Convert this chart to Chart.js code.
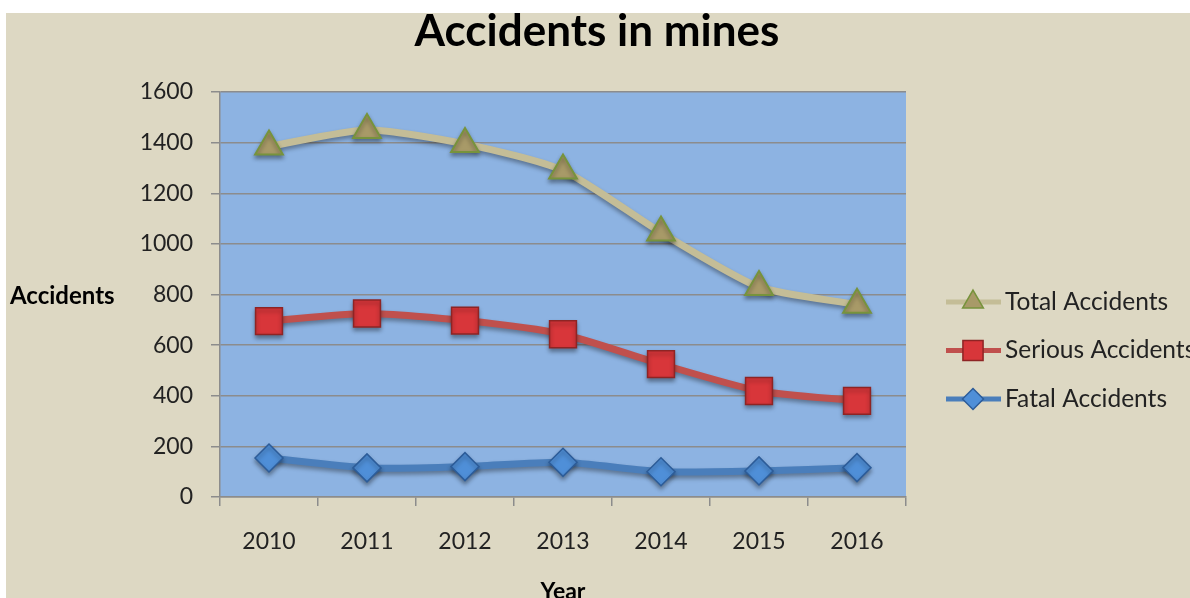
<!DOCTYPE html>
<html>
<head>
<meta charset="utf-8">
<script src="https://cdn.jsdelivr.net/npm/chart.js@4.4.1/dist/chart.umd.min.js"></script>
<style>
  html, body { margin: 0; padding: 0; background: #fff; }
  #wrap { width: 1190px; height: 598px; }
</style>
</head>
<body>
<div id="wrap"><canvas id="mines" width="1190" height="598"></canvas></div>
<script>
// data
const years = ["2010", "2011", "2012", "2013", "2014", "2015", "2016"];
const totalAccidents = [1385, 1450, 1395, 1290, 1045, 830, 760];
const seriousAccidents = [695, 725, 697, 643, 525, 419, 380];
const fatalAccidents = [154, 115, 120, 137, 100, 103, 116];
const yTicks = [0, 200, 400, 600, 800, 1000, 1200, 1400, 1600];

const FONT = "Lato, 'Open Sans', sans-serif";

// background + plot area fill
const backdrop = {
    id: "backdrop",
    beforeDraw(chart) {
        const c = chart.ctx, a = chart.chartArea;
        c.save();
        c.fillStyle = "#ffffff";
        c.fillRect(0, 0, chart.width, chart.height);
        c.fillStyle = "#DDD8C3";
        c.fillRect(6, 13, chart.width - 6, chart.height - 13);
        c.fillStyle = "#8DB3E2";
        c.fillRect(a.left, a.top, a.right - a.left, a.bottom - a.top);
        c.restore();
    }
};

// soft drop shadow under lines and markers
const shadow = {
    id: "shadow",
    beforeDatasetDraw(chart) {
        const c = chart.ctx;
        c.save();
        c.shadowColor = "rgba(0,0,0,0.35)";
        c.shadowBlur = 4;
        c.shadowOffsetY = 3;
    },
    afterDatasetDraw(chart) {
        chart.ctx.restore();
    }
};

// titles and the legend on the right
const labels = {
    id: "labels",
    afterDraw(chart) {
        const c = chart.ctx;
        c.save();
        c.fillStyle = "#000";
        c.textBaseline = "middle";
        c.textAlign = "center";
        c.font = "bold 44px " + FONT;
        c.fillText("Accidents in mines", 597, 32);
        c.font = "bold 23px " + FONT;
        c.fillText("Year", 563, 592);
        c.textAlign = "left";
        c.font = "bold 24px " + FONT;
        c.fillText("Accidents", 10, 296);

        c.font = "24.5px " + FONT;
        chart.data.datasets.forEach(function (ds, i) {
            const y = 302 + i * 48.5;
            c.strokeStyle = ds.borderColor;
            c.lineWidth = 5;
            c.beginPath();
            c.moveTo(946, y);
            c.lineTo(1001, y);
            c.stroke();
            c.fillStyle = ds.pointBackgroundColor;
            c.strokeStyle = ds.pointBorderColor;
            c.lineWidth = 1.5;
            Chart.helpers.drawPoint(c, {
                pointStyle: ds.pointStyle,
                radius: ds.pointRadius * 0.75,
                borderWidth: 1.5
            }, 973, y);
            c.fillStyle = "#222";
            c.fillText(ds.label, 1005, y);
        });
        c.restore();
    }
};

new Chart(document.getElementById("mines"), {
    type: "line",
    data: {
        labels: years,
        datasets: [
            {
                label: "Total Accidents",
                data: totalAccidents,
                borderColor: "#C4BD97",
                borderWidth: 7,
                pointStyle: "triangle",
                pointRadius: 16,
                pointBackgroundColor: "#A89A68",
                pointBorderColor: "#77933C",
                pointBorderWidth: 2,
                tension: 0.22
            },
            {
                label: "Serious Accidents",
                data: seriousAccidents,
                borderColor: "#C0504D",
                borderWidth: 7,
                pointStyle: "rect",
                pointRadius: 19,
                pointBackgroundColor: "#D8363A",
                pointBorderColor: "#8E2424",
                pointBorderWidth: 1.5,
                tension: 0.22
            },
            {
                label: "Fatal Accidents",
                data: fatalAccidents,
                borderColor: "#4A7EBB",
                borderWidth: 7,
                pointStyle: "rectRot",
                pointRadius: 14,
                pointBackgroundColor: "#4F8FD8",
                pointBorderColor: "#2C5C99",
                pointBorderWidth: 1.5,
                tension: 0.22
            }
        ]
    },
    options: {
        responsive: false,
        animation: false,
        layout: { padding: { left: 0, right: 284, top: 92, bottom: 0 } },
        plugins: {
            legend: { display: false },
            title: { display: false },
            tooltip: { enabled: false }
        },
        scales: {
            x: {
                offset: true,
                grid: { offset: true, drawOnChartArea: false, drawTicks: true, tickLength: 9, color: "#8C8C8C", lineWidth: 1.5 },
                border: { color: "#8C8C8C", width: 1.5 },
                ticks: { color: "#222", font: { family: FONT, size: 23 }, padding: 22 },
                afterFit(scale) { scale.height = 101; }
            },
            y: {
                min: 0,
                max: 1600,
                afterBuildTicks(scale) { scale.ticks = yTicks.map(v => ({ value: v })); },
                grid: { color: "#8C8C8C", lineWidth: 1.5, tickLength: 9 },
                border: { color: "#8C8C8C", width: 1.5 },
                ticks: {
                    color: "#222",
                    font: { family: FONT, size: 23 },
                    padding: 18,
                    callback: v => String(v)
                },
                afterFit(scale) { scale.width = 220; }
            }
        }
    },
    plugins: [backdrop, shadow, labels]
});
</script>
</body>
</html>
